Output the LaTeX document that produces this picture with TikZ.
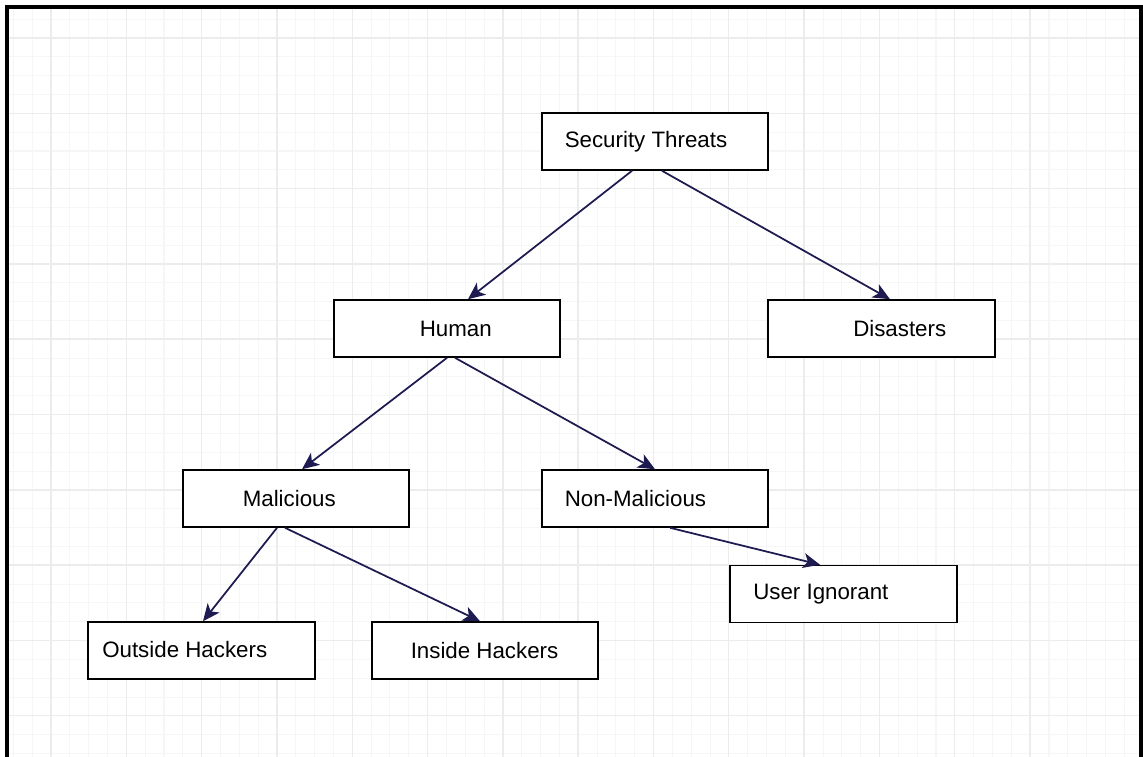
\documentclass[tikz,border=0pt]{standalone}
\usepackage{fontspec}
\setmainfont{Liberation Sans}
\usetikzlibrary{arrows.meta,calc}
\definecolor{linkc}{HTML}{1E1B50}
\definecolor{gridmin}{HTML}{F6F6F6}
\definecolor{gridmaj}{HTML}{ECECEC}
\newcommand{\boxtext}[2]{\makebox[4.53cm][l]{\hspace{#1}#2}}

\begin{document}
\begin{tikzpicture}[
  x=0.02cm, y=-0.02cm,
  every node/.style={font=\fontsize{12.7}{15}\selectfont},
  box/.style   ={draw=black, line width=0.9pt, fill=white, inner sep=0pt,
                 minimum width=4.53cm, minimum height=1.14cm},
  link/.style  ={-{Stealth[length=0.34cm,width=0.3cm,inset=0.09cm]}, line width=1pt, linkc},
  gmin/.style  ={gridmin, line width=0.6pt},
  gmaj/.style  ={gridmaj, line width=0.8pt},
  frame/.style ={black, line width=2pt},
]
\useasboundingbox (0,0) rectangle (1143,757);

%% ── background grid ─────────────────────────────────────────
\begin{scope}
  \clip (8,8) rectangle (1140,757);
  \foreach \k in {-2,...,58} {
    \draw[gmin] ({51+18.83*\k},0) -- ++(0,757);
  }
  \foreach \k in {-2,...,38} {
    \draw[gmin] (0,{38+18.83*\k}) -- ++(1143,0);
  }
  \foreach \k in {0,...,14} {
    \draw[gmaj] ({51+75.3*(\k-1)},0) -- ++(0,757);
  }
  \foreach \k in {0,...,10} {
    \draw[gmaj] (0,{38+75.3*(\k-1)}) -- ++(1143,0);
  }
\end{scope}
\draw[frame] (7,757) -- (7,7) -- (1141,7) -- (1141,757);

%% ── nodes ───────────────────────────────────────────────────
\node[box] (threats)  at (655,141.5) {\boxtext{0.46cm}{Security Threats}};
\node[box] (human)    at (447,328.5) {\boxtext{1.72cm}{Human}};
\node[box] (disaster) at (881.5,328.5) {\boxtext{1.7cm}{Disasters}};
\node[box] (malic)    at (296,498.5) {\boxtext{1.2cm}{Malicious}};
\node[box] (nonmalic) at (655,498.5) {\boxtext{0.46cm}{Non-Malicious}};
\node[box] (ignorant) at (843.5,594) {\boxtext{0.46cm}{\raisebox{3pt}{User Ignorant}}};
\node[box] (outside)  at (201.5,650.5) {\boxtext{0.28cm}{\raisebox{1pt}{Outside Hackers}}};
\node[box] (inside)   at (485,650.5) {\boxtext{0.78cm}{Inside Hackers}};

%% ── connectors ──────────────────────────────────────────────
\draw[link] ([xshift=-0.46cm]threats.south) -- ([xshift=0.42cm]human.north);
\draw[link] ([xshift=0.14cm]threats.south)  -- ([xshift=0.17cm]disaster.north);
\draw[link] (human.south)                   -- ([xshift=0.12cm]malic.north);
\draw[link] ([xshift=0.16cm]human.south)    -- (nonmalic.north);
\draw[link] ([xshift=-0.38cm]malic.south)   -- ([xshift=0.03cm]outside.north);
\draw[link] ([xshift=-0.22cm]malic.south)   -- ([xshift=-0.1cm]inside.north);
\draw[link] ([xshift=0.3cm]nonmalic.south)  -- ([xshift=-0.47cm]ignorant.north);

\end{tikzpicture}
\end{document}
